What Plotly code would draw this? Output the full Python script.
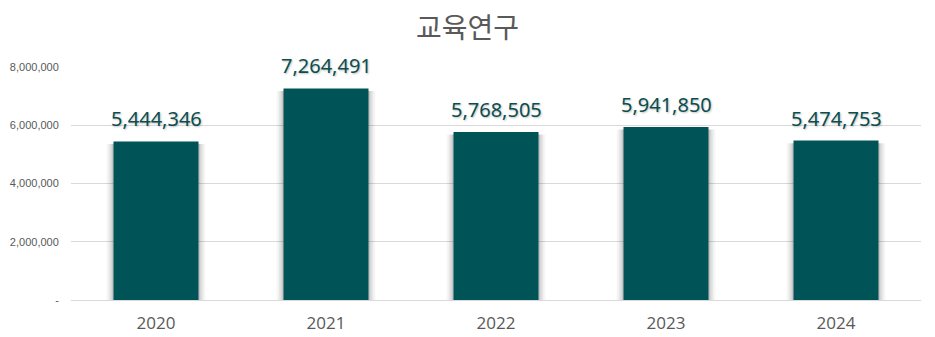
import plotly.graph_objects as go

years = ["2020", "2021", "2022", "2023", "2024"]
values = [5444346, 7264491, 5768505, 5941850, 5474753]
y_ticks = [0, 2000000, 4000000, 6000000, 8000000]
y_tick_labels = ["-", "2,000,000", "4,000,000", "6,000,000", "8,000,000"]

BAR = "#005356"
GREY = "#595959"

fig = go.Figure()

# soft drop shadow behind each bar: stacked translucent wider bars
for w, a in [(0.58, 0.05), (0.555, 0.07), (0.535, 0.09), (0.518, 0.12)]:
    fig.add_trace(go.Bar(
        x=years, y=[v - 60000 for v in values], base=-30000,
        width=w, marker=dict(color=f"rgba(60,60,60,{a})", line=dict(width=0)),
        hoverinfo="skip", showlegend=False,
    ))

fig.add_trace(go.Bar(
    x=years, y=values, width=0.5,
    marker=dict(color=BAR, line=dict(width=0)),
    showlegend=False,
))

# value labels above the bars (category index positions on the x axis)
for i, v in enumerate(values):
    fig.add_annotation(
        x=i, y=v, text=f"{v:,}", showarrow=False,
        yanchor="bottom", yshift=7,
        font=dict(family="Noto Sans, Open Sans, sans-serif", size=20, color="#0b4e50",
                  shadow="1px 1px 2px rgba(0,0,0,0.25)"),
    )

fig.update_layout(
    width=935, height=337,
    barmode="overlay",
    plot_bgcolor="white", paper_bgcolor="white",
    margin=dict(l=71, r=14, t=67, b=37, autoexpand=False),
    title=dict(text="교육연구", x=0.5, xanchor="center", y=0.915, yanchor="middle",
               font=dict(family="Noto Sans CJK KR", size=28, color=GREY)),
    xaxis=dict(type="category", automargin=False, showgrid=False, showline=True,
               linecolor="#d9d9d9", linewidth=1,
               ticks="outside", ticklen=8, tickcolor="rgba(0,0,0,0)",
               tickfont=dict(family="Open Sans, sans-serif", size=17, color=GREY)),
    yaxis=dict(range=[0, 8000000], automargin=False, tickvals=y_ticks, ticktext=y_tick_labels,
               showgrid=True, gridcolor="#d9d9d9", gridwidth=1, zeroline=False,
               ticks="outside", ticklen=9, tickcolor="rgba(0,0,0,0)",
               tickfont=dict(family="Liberation Sans, Arial, sans-serif", size=11, color=GREY)),
)

fig.write_html("out.html")
